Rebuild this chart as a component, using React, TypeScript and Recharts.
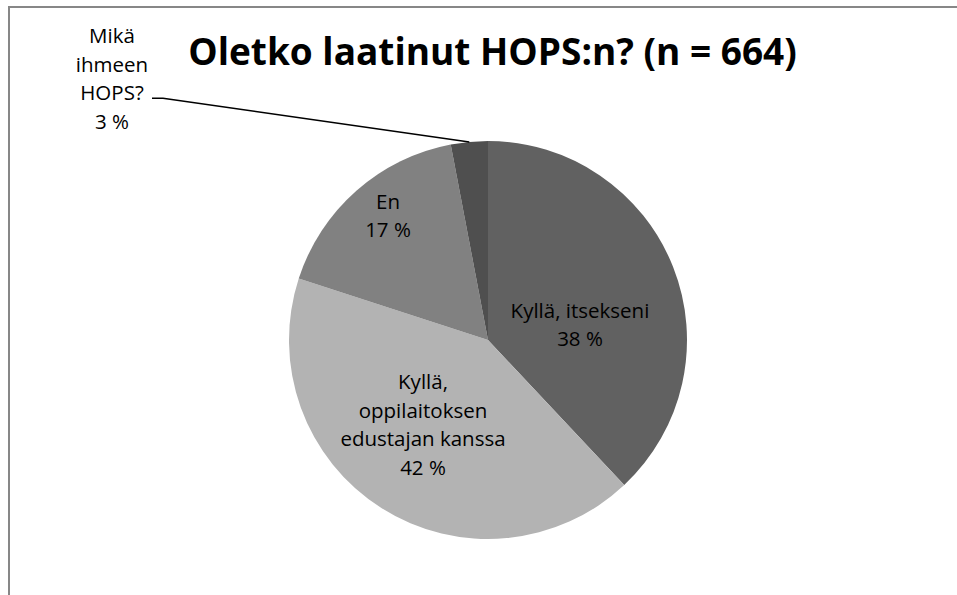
import { PieChart, Pie, Cell } from 'recharts'

const categories = [
  'Kyllä, itsekseni',
  'Kyllä, oppilaitoksen edustajan kanssa',
  'En',
  'Mikä ihmeen HOPS?',
]
const shares = [38, 42, 17, 3]
const labelRows = [
  ['Kyllä, itsekseni'],
  ['Kyllä,', 'oppilaitoksen', 'edustajan kanssa'],
  ['En'],
  ['Mikä', 'ihmeen', 'HOPS?'],
]
const sliceColors = ['#616161', '#b3b3b3', '#818181', '#4f4f4f']

const titleText = 'Oletko laatinut HOPS:n? (n = 664)'

const data = categories.map((name, i) => ({
  name,
  value: shares[i],
  rows: [...labelRows[i], `${shares[i]} %`],
}))

// where Excel's best fit put each label block, relative to pie centre
const labelSpots = [
  { dx: 92, dy: -16 },
  { dx: -65, dy: 84 },
  { dx: -100, dy: -125 },
  { dx: -376, dy: -262 },
]
const LINE_H = 28.7
const FONT = '"Open Sans", "Liberation Sans", sans-serif'

const renderLabel = (props: any) => {
  const { cx, cy, index, payload } = props
  const rows: string[] = payload.rows ?? data[index].rows
  const spot = labelSpots[index]
  const x = cx + spot.dx
  const top = cy + spot.dy - ((rows.length - 1) * LINE_H) / 2
  return (
    <text
      key={`lbl-${index}`}
      x={x}
      y={top}
      textAnchor="middle"
      dominantBaseline="central"
      fill="#000"
      fontFamily={FONT}
      fontSize={20.5}
    >
      {rows.map((r, i) => (
        <tspan key={i} x={x} y={top + i * LINE_H}>
          {r}
        </tspan>
      ))}
    </text>
  )
}

const renderLabelLine = (props: any) => {
  const { cx, cy, midAngle, outerRadius, index } = props
  if (index !== 3) return <g key={`ll-${index}`} />
  const rad = (Math.PI / 180) * midAngle
  const sx = cx + outerRadius * Math.cos(rad)
  const sy = cy - outerRadius * Math.sin(rad)
  const spot = labelSpots[index]
  const rows = data[index].rows
  const ly = cy + spot.dy - ((rows.length - 1) * LINE_H) / 2 + 2 * LINE_H + 6
  const lx = cx + spot.dx + 40
  return (
    <path
      key={`ll-${index}`}
      d={`M${sx},${sy}L${lx + 11},${ly}L${lx},${ly}`}
      stroke="#000"
      strokeWidth={1.5}
      fill="none"
    />
  )
}

export default function App() {
  return (
    <div
      style={{
        position: 'absolute',
        left: 0,
        top: 0,
        width: 957,
        height: 595,
        overflow: 'hidden',
        background: '#fff',
      }}
    >
      <PieChart width={957} height={595}>
        <Pie
          data={data}
          dataKey="value"
          nameKey="name"
          cx={483}
          cy={335}
          outerRadius={199}
          startAngle={90}
          endAngle={-270}
          stroke="none"
          label={renderLabel}
          labelLine={renderLabelLine}
          isAnimationActive={false}
        >
          {data.map((d, i) => (
            <Cell key={d.name} fill={sliceColors[i]} />
          ))}
        </Pie>
      </PieChart>
      <div
        style={{
          position: 'absolute',
          left: 0,
          width: 985,
          top: 31,
          textAlign: 'center',
          fontFamily: FONT,
          fontWeight: 700,
          fontSize: 37,
          lineHeight: '40px',
          color: '#000',
          whiteSpace: 'nowrap',
        }}
      >
        {titleText}
      </div>
      <div
        style={{
          position: 'absolute',
          left: 8,
          top: 6,
          width: 980,
          height: 620,
          border: '2px solid #878787',
          pointerEvents: 'none',
        }}
      />
    </div>
  )
}
